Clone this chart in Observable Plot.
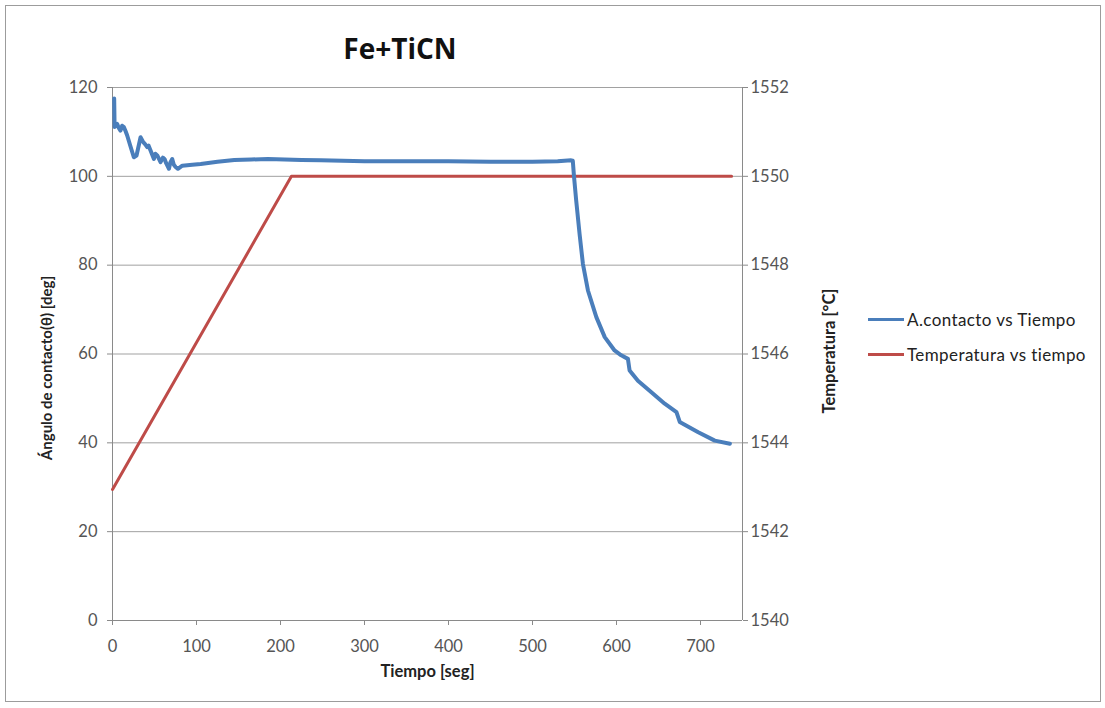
<!DOCTYPE html>
<html>
<head>
<meta charset="utf-8">
<script src="https://cdn.jsdelivr.net/npm/d3@7"></script>
<script src="https://cdn.jsdelivr.net/npm/@observablehq/plot@0.6"></script>
<style>
  html, body { margin: 0; padding: 0; background: #fff; }
  #wrap { position: relative; width: 1105px; height: 708px; background: #fff; font-family: Lato, "Open Sans", sans-serif; }
  #frame { position: absolute; left: 5px; top: 5px; width: 1096px; height: 697px; border: 1px solid #9c9c9c; box-sizing: border-box; pointer-events: none; }
  #title { position: absolute; left: 300px; width: 200px; top: 29px; text-align: center; font-family: "Open Sans", sans-serif; font-weight: bold; font-size: 28px; color: #111; }
  #legend { position: absolute; left: 868px; top: 302px; font-size: 17px; letter-spacing: 0.4px; color: #222; }
  .item { display: flex; align-items: center; height: 35px; }
  .sw { width: 36px; height: 3px; margin-right: 3px; }
  #chart svg { position: absolute; left: 0; top: 0; }
</style>
</head>
<body>
<div id="wrap">
  <div id="chart"></div>
  <div id="title"></div>
  <div id="legend"></div>
  <div id="frame"></div>
</div>
<script>
// Contact angle of the Fe drop on TiCN over time (left axis, degrees)
const tiempoAngulo = [2, 2.5, 5.6, 7.5, 9.5, 11.5, 13.5, 15.5, 17.5, 21, 25.4, 28.6, 33.4,
  36.6, 39, 41.3, 43, 45.3, 49.3, 51, 53.3, 57.2, 60, 62, 64, 67.2, 69, 71.1, 73, 75.1,
  77.9, 83.1, 95, 105, 125, 145, 165, 185, 205, 225,
  248, 300, 350, 400, 450, 500, 530, 546, 548, 549.3,
  552, 556, 560, 566, 576, 586, 597.7, 605.6, 613.6, 615.6,
  625.5, 641.5, 657.4, 671.4, 675.3, 697.3, 717, 735];
const angulo = [117.5, 111.1, 111.8, 110.9, 110.3, 111.4, 111.1, 110.2, 109.2, 107, 104.3, 104.7, 108.8,
  107.7, 107.2, 106.6, 106.9, 105.8, 103.9, 105.1, 104.7, 103.2, 104.2, 103.9, 102.9, 101.7, 103.2, 103.9, 102.6, 102.1,
  101.7, 102.4, 102.6, 102.8, 103.3, 103.7, 103.8, 103.9, 103.8, 103.7,
  103.6, 103.4, 103.4, 103.4, 103.3, 103.3, 103.4, 103.6, 103.5, 100.2,
  94.6, 87.1, 80.3, 74.3, 68.3, 63.8, 60.8, 59.7, 58.9, 56.3,
  54.0, 51.4, 48.8, 46.9, 44.7, 42.4, 40.5, 39.8];

// Furnace temperature over time (right axis, °C)
const tiempoTemp = [0, 213, 737];
const temperatura = [1542.95, 1550, 1550];

// Axis ticks
const ticksX = [0, 100, 200, 300, 400, 500, 600, 700];
const ticksAngulo = [0, 20, 40, 60, 80, 100, 120];
const ticksTemp = [1540, 1542, 1544, 1546, 1548, 1550, 1552];

const titulo = "Fe+TiCN";
const series = ["A.contacto vs Tiempo", "Temperatura vs tiempo"];
const colores = ["#4A7EBB", "#BE4B48"];

// Secondary axis 1540–1552 °C shares the frame with 0–120°
const tempMin = 1540, tempMax = 1552;
const aIzq = t => (t - tempMin) * 120 / (tempMax - tempMin);

const datosAngulo = tiempoAngulo.map((t, i) => ({t, v: angulo[i]}));
const datosTemp = tiempoTemp.map((t, i) => ({t, v: temperatura[i]}));

const tickFont = {fontSize: 16.5, fill: "#555"};
const ejeColor = "#8a8a8a";

const chart = Plot.plot({
  width: 1105,
  height: 708,
  marginLeft: 112,
  marginRight: 363,
  marginTop: 87,
  marginBottom: 88,
  style: {fontFamily: "Lato, 'Open Sans', sans-serif", background: "transparent", overflow: "visible"},
  x: {domain: [0, 750]},
  y: {domain: [0, 120]},
  marks: [
    Plot.gridY(ticksAngulo, {stroke: ejeColor, strokeOpacity: 0.8, strokeWidth: 1}),
    Plot.ruleX([0, 750], {stroke: ejeColor, strokeWidth: 1}),
    Plot.ruleY([0], {stroke: ejeColor, strokeWidth: 1}),
    Plot.axisX({ticks: ticksX, tickSize: 5, tickPadding: 15, stroke: ejeColor, label: null, ...tickFont}),
    Plot.axisY({anchor: "left", ticks: ticksAngulo, tickSize: 5, tickPadding: 10, stroke: ejeColor, label: null, ...tickFont}),
    Plot.axisY({anchor: "right", ticks: ticksTemp.map(aIzq), tickFormat: (d, i) => String(ticksTemp[i]), tickSize: 5, tickPadding: 3, stroke: ejeColor, label: null, ...tickFont}),
    // Axis titles
    Plot.text(["Tiempo [seg]"], {frameAnchor: "bottom", textAnchor: "middle", dy: 56, fontWeight: "bold", fontSize: 16.5, fill: "#222"}),
    Plot.text(["Ángulo de contacto(θ) [deg]"], {frameAnchor: "left", textAnchor: "middle", rotate: -90, dx: -65, dy: 14, fontWeight: "bold", fontSize: 15, fill: "#222"}),
    Plot.text(["Temperatura [°C]"], {frameAnchor: "right", textAnchor: "middle", rotate: -90, dx: 87, dy: -3, fontWeight: "bold", fontSize: 16.5, fill: "#222"}),
    // Series
    Plot.line(datosTemp, {x: "t", y: d => aIzq(d.v), stroke: colores[1], strokeWidth: 3}),
    Plot.line(datosAngulo, {x: "t", y: "v", stroke: colores[0], strokeWidth: 4, strokeLinejoin: "round"})
  ]
});
document.getElementById("chart").appendChild(chart);
document.getElementById("title").textContent = titulo;

const legend = document.getElementById("legend");
series.forEach((s, i) => {
  const item = document.createElement("div");
  item.className = "item";
  const sw = document.createElement("div");
  sw.className = "sw";
  sw.style.background = colores[i];
  const lab = document.createElement("span");
  lab.textContent = s;
  item.appendChild(sw);
  item.appendChild(lab);
  legend.appendChild(item);
});
</script>
</body>
</html>
